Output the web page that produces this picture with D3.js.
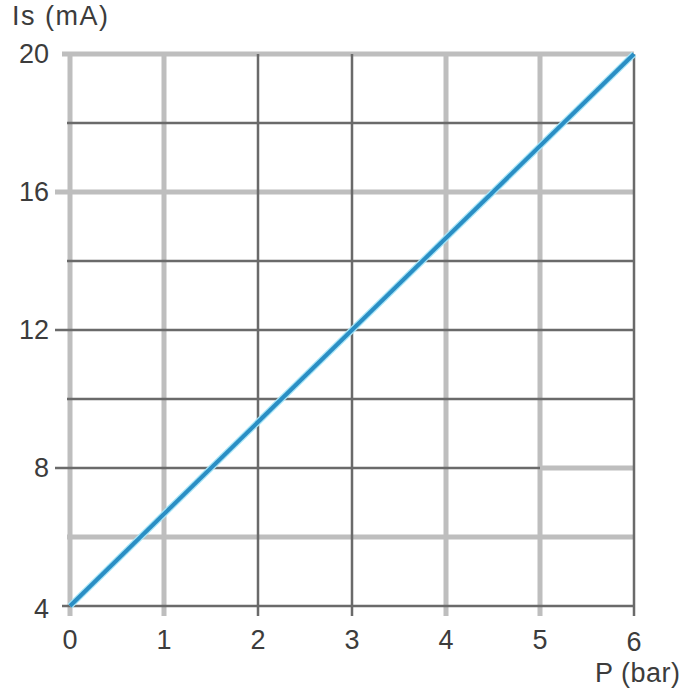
<!DOCTYPE html>
<html>
<head>
<meta charset="utf-8">
<script src="https://cdn.jsdelivr.net/npm/d3@7"></script>
<style>
  body { margin: 0; background: #fff; }
  text { font-family: "Liberation Sans", Arial, sans-serif; fill: #3c3c3c; }
</style>
</head>
<body>
<div id="chart"></div>
<script>
// data
const pressure = [0, 6];          // P (bar)
const current = [4, 20];          // Is (mA)
const xTicks = [0, 1, 2, 3, 4, 5, 6];
const yGrid = [4, 6, 8, 10, 12, 14, 16, 18, 20];
const yTicks = [4, 8, 12, 16, 20];

const width = 700;
const height = 700;
const margin = { top: 54, right: 66, bottom: 94, left: 70 };

const svg = d3.select("#chart")
  .append("svg")
  .attr("width", width)
  .attr("height", height);

const x = d3.scaleLinear()
  .domain([0, 6])
  .range([margin.left, width - margin.right]);

const y = d3.scaleLinear()
  .domain([4, 20])
  .range([height - margin.bottom, margin.top]);

const grayX = [0, 1, 4, 5];
const grayY = [6, 16, 20];
const light = "#bebebe";
const dark = "#6a6a6a";

const gridLight = svg.append("g");
const gridDark = svg.append("g");

// vertical lines
xTicks.forEach(v => {
  const isGray = grayX.includes(v);
  (isGray ? gridLight : gridDark).append("line")
    .attr("x1", x(v)).attr("x2", x(v))
    .attr("y1", y(20)).attr("y2", y(4) + 10)
    .attr("stroke", isGray ? light : dark)
    .attr("stroke-width", isGray ? 5 : 2.5);
});

// horizontal lines
yGrid.forEach(v => {
  const isGray = grayY.includes(v);
  const start = yTicks.includes(v) ? (v === 20 || v === 4 ? x(0) - 8 : x(0) - 15) : x(0) - 3;
  if (v === 8) {
    // this one turns light in the last cell
    gridDark.append("line")
      .attr("x1", start).attr("x2", x(5))
      .attr("y1", y(v)).attr("y2", y(v))
      .attr("stroke", dark).attr("stroke-width", 2.5);
    gridLight.append("line")
      .attr("x1", x(5)).attr("x2", x(6))
      .attr("y1", y(v)).attr("y2", y(v))
      .attr("stroke", light).attr("stroke-width", 5);
    return;
  }
  (isGray ? gridLight : gridDark).append("line")
    .attr("x1", start).attr("x2", x(6) + (isGray ? 0 : 1))
    .attr("y1", y(v)).attr("y2", y(v))
    .attr("stroke", isGray ? light : dark)
    .attr("stroke-width", isGray ? 5 : 2.5);
});

// tick labels
svg.append("g").selectAll("text")
  .data(yTicks)
  .enter()
  .append("text")
  .attr("x", x(0) - 21)
  .attr("y", d => y(d) + (d === 4 ? 12 : 9))
  .attr("text-anchor", "end")
  .attr("font-size", 27)
  .text(d => d);

svg.append("g").selectAll("text")
  .data(xTicks)
  .enter()
  .append("text")
  .attr("x", d => x(d))
  .attr("y", d => y(4) + (d === 6 ? 45 : 43))
  .attr("text-anchor", "middle")
  .attr("font-size", 27)
  .text(d => d);

svg.append("text")
  .attr("x", 12)
  .attr("y", 25)
  .attr("font-size", 27)
  .attr("letter-spacing", 1.5)
  .text("Is (mA)");

svg.append("text")
  .attr("x", 595)
  .attr("y", 682)
  .attr("font-size", 27)
  .attr("letter-spacing", 0.5)
  .text("P (bar)");

// the line
const line = d3.line()
  .x(d => x(d[0]))
  .y(d => y(d[1]));

const pts = pressure.map((p, i) => [p, current[i]]);

svg.append("path")
  .datum(pts)
  .attr("d", line)
  .attr("fill", "none")
  .attr("stroke", "#a8e6f8")
  .attr("stroke-width", 6.5);

svg.append("path")
  .datum(pts)
  .attr("d", line)
  .attr("fill", "none")
  .attr("stroke", "#2a8ec4")
  .attr("stroke-width", 4);
</script>
</body>
</html>
